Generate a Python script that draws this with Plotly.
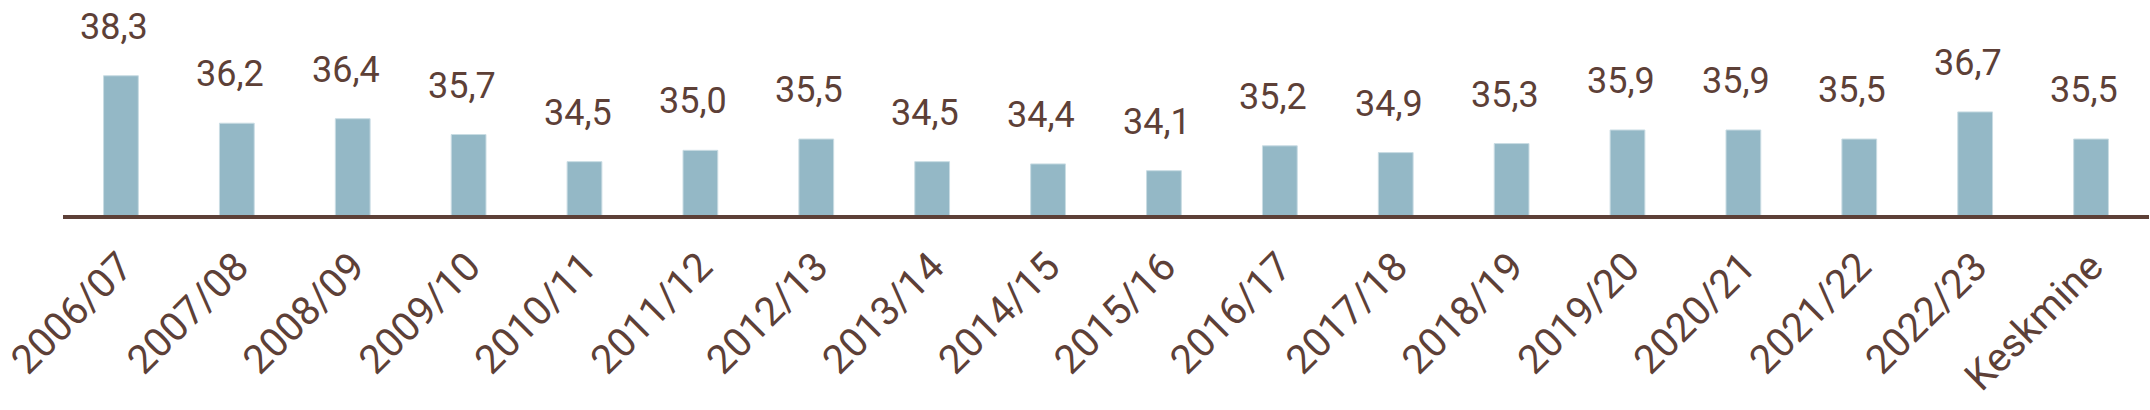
import plotly.graph_objects as go

categories = ["2006/07", "2007/08", "2008/09", "2009/10", "2010/11", "2011/12",
              "2012/13", "2013/14", "2014/15", "2015/16", "2016/17", "2017/18",
              "2018/19", "2019/20", "2020/21", "2021/22", "2022/23", "Keskmine"]
values = [38.3, 36.2, 36.4, 35.7, 34.5, 35.0, 35.5, 34.5, 34.4, 34.1, 35.2, 34.9,
          35.3, 35.9, 35.9, 35.5, 36.7, 35.5]
labels = [f"{v:.1f}".replace(".", ",") for v in values]

BROWN = "#5D4037"
BAR = "#94B8C6"
FONT = "Roboto, sans-serif"

fig = go.Figure()
fig.add_trace(go.Bar(
    x=categories, y=values,
    marker=dict(color=BAR, line=dict(color="#C9DCE3", width=1)),
    width=0.3,
    hoverinfo="skip",
))

for c, v, t in zip(categories, values, labels):
    fig.add_annotation(x=c, y=v, text=t, showarrow=False, yanchor="bottom",
                       xshift=-7, yshift=26,
                       font=dict(family=FONT, size=36, color=BROWN))

fig.update_layout(
    width=2150, height=410,
    margin=dict(l=63, r=1, t=0, b=195),
    paper_bgcolor="white", plot_bgcolor="white",
    showlegend=False,
    font=dict(family=FONT, size=36, color=BROWN),
    xaxis=dict(
        type="category", automargin=False,
        showline=True, linecolor=BROWN, linewidth=4,
        showgrid=False, ticks="", tickangle=-45,
        ticklabelstandoff=8,
        tickfont=dict(family=FONT, size=40, color=BROWN),
        zeroline=False,
    ),
    yaxis=dict(
        range=[32.14, 41.65], visible=False, showgrid=False, zeroline=False,
        automargin=False,
    ),
)

fig.write_html("out.html", config={"displayModeBar": False},
               post_script="document.body.style.margin='0';")
